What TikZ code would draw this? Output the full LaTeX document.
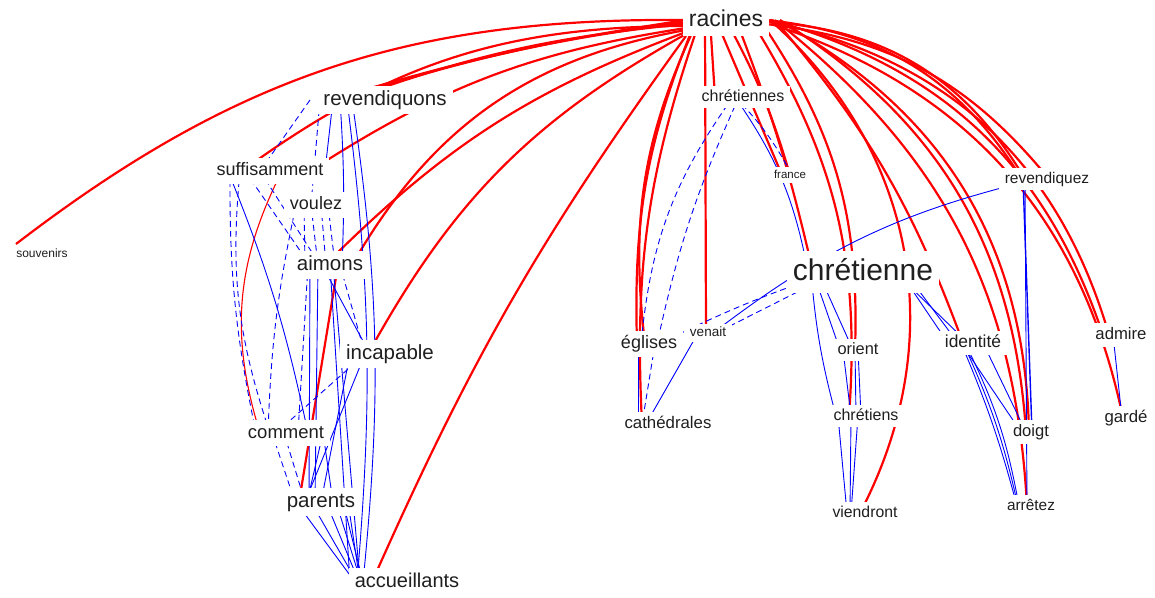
\documentclass[tikz,border=0pt]{standalone}
\usepackage{fontspec}
\setmainfont{Liberation Sans}
\usetikzlibrary{calc}
\pgfdeclarelayer{bg}\pgfdeclarelayer{edges}
\pgfsetlayers{bg,edges,main}
\newcommand\fsz[1]{\fontsize{#1}{#1}\selectfont}
\tikzset{
 lbl/.style={fill=white, text=black!88, inner xsep=6pt, inner ysep={#1*0.25pt},
   text height={#1*0.72pt}, text depth={#1*0.18pt}, font=\fsz{#1}},
 R/.style={draw=red, line width=2.2pt},
 Rt/.style={draw=red, line width=1.1pt},
 B/.style={draw=blue, line width=0.9pt},
 Bd/.style={draw=blue, line width=0.9pt, dash pattern=on 6pt off 4pt},
}
\begin{document}
\begin{tikzpicture}[x=1pt,y=-1pt]
\begin{pgfonlayer}{bg}
\fill[white] (0,0) rectangle (1155,597);
\end{pgfonlayer}
\useasboundingbox (0,0) rectangle (1155,597);
% nodes
\node[lbl=23] (racines) at (726,20) {racines};
\node[lbl=20.5] (revendiquons) at (385,100) {revendiquons};
\node[lbl=18] (suffisamment) at (270,171) {suffisamment};
\node[lbl=18] (voulez) at (316,205) {voulez};
\node[lbl=12] (souvenirs) at (42,254) {souvenirs};
\node[lbl=20.5] (aimons) at (330,265) {aimons};
\node[lbl=20.5] (incapable) at (390,354) {incapable};
\node[lbl=18.5] (comment) at (286,433) {comment};
\node[lbl=20.5] (parents) at (321,502) {parents};
\node[lbl=20] (accueillants) at (407,582) {accueillants};
\node[lbl=16] (chretiennes) at (743,97) {chrétiennes};
\node[lbl=11.5] (france) at (790,175) {france};
\node[lbl=15.5] (revendiquez) at (1047,179) {revendiquez};
\node[lbl=30] (chretienne) at (863,272) {chrétienne};
\node[lbl=18] (eglises) at (649,344) {églises};
\node[lbl=13.5] (venait) at (708,333) {venait};
\node[lbl=16.8] (cathedrales) at (668,424) {cathédrales};
\node[lbl=16.4] (orient) at (858,350) {orient};
\node[lbl=17.4] (identite) at (973,343) {identité};
\node[lbl=16.7] (admire) at (1121,335) {admire};
\node[lbl=16] (chretiens) at (866,416) {chrétiens};
\node[lbl=16.6] (doigt) at (1031,432) {doigt};
\node[lbl=16.8] (garde) at (1126,418) {gardé};
\node[lbl=15.8] (viendront) at (865,513) {viendront};
\node[lbl=15.4] (arretez) at (1031,506) {arrêtez};

\begin{pgfonlayer}{edges}
% ---- red edges from racines, left side
\draw[R] ($(racines)+(-40,0)$) to[bend right=19] ($(souvenirs)+(-26,-10)$);
\draw[R] ($(racines)+(-40,0)$) to[bend right=4] ($(revendiquons)+(-55,0)$);
\draw[R] ($(racines)+(-40,2)$) to[bend right=5] ($(revendiquons)+(-47,0)$);
\draw[R] ($(racines)+(-40,4)$) to[bend right=7] ($(revendiquons)+(-38,0)$);
\draw[Rt] ($(racines)+(-40,3)$) to[bend right=6] ($(revendiquons)+(-42,0)$);
\draw[R] ($(racines)+(-40,6)$) to[bend right=18] ($(suffisamment)+(-28,0)$);
\draw[R] ($(racines)+(-40,8)$) to[bend right=12] ($(suffisamment)+(40,0)$);
\draw[R] ($(racines)+(-40,10)$) to[bend right=25] ($(aimons)+(22,0)$);
\draw[R] ($(racines)+(-40,12)$) to[bend right=12] ($(aimons)+(0,-5)$);
\draw[R] ($(racines)+(-40,14)$) to[bend right=16] ($(incapable)+(-22,0)$);
\draw[R] ($(racines)+(-40,16)$) to[bend right=6] ($(accueillants)+(-35,0)$);
\draw[R] ($(aimons)+(8,0)$) -- ($(parents)+(-22,0)$);
\draw[Rt] ($(suffisamment)+(12,0)$) to[bend right=22] ($(comment)+(-26,0)$);
% ---- red edges from racines, right side
\draw[R] ($(racines)+(-30,0)$) to[bend right=12] ($(eglises)+(-12,0)$);
\draw[R] ($(racines)+(-28,0)$) to[bend right=16] ($(eglises)+(-4,0)$);
\draw[R] ($(racines)+(-26,0)$) to[bend right=11] ($(cathedrales)+(-26,0)$);
\draw[R] ($(racines)+(-21,0)$) -- ($(venait)+(-2,0)$);
\draw[R] ($(racines)+(-16,0)$) -- ($(chretiennes)+(-28,0)$);
\draw[R] ($(racines)+(-10,0)$) -- ($(france)+(-8,0)$);
\draw[R] ($(racines)+(0,0)$) to[bend left=6] ($(france)+(0,0)$);
\draw[R] ($(racines)+(10,0)$) to[bend left=4] ($(chretienne)+(-50,0)$);
\draw[R] ($(racines)+(25,0)$) to[bend left=18] ($(chretiens)+(-17,0)$);
\draw[R] ($(racines)+(34,0)$) to[bend left=18] ($(orient)+(-3,0)$);
\draw[R] ($(racines)+(44,0)$) to[bend left=38] ($(viendront)+(-5,0)$);
\draw[R] ($(racines)+(49,0)$) to[bend left=10] ($(identite)+(-10,0)$);
\draw[R] ($(racines)+(54,0)$) to[bend left=27] ($(doigt)+(-5,0)$);
\draw[R] ($(racines)+(54,2)$) to[bend left=30] ($(doigt)+(-2,0)$);
\draw[R] ($(racines)+(54,4)$) to[bend left=24] ($(arretez)+(-4,0)$);
\draw[R] ($(racines)+(40,0)$) to[bend left=26] ($(revendiquez)+(-25,0)$);
\draw[R] ($(racines)+(40,2)$) to[bend left=28] ($(revendiquez)+(-22,0)$);
\draw[R] ($(racines)+(40,4)$) to[bend left=22] ($(revendiquez)+(2,0)$);
\draw[R] ($(racines)+(45,0)$) to[bend left=28] ($(admire)+(-18,0)$);
\draw[R] ($(racines)+(45,2)$) to[bend left=31] ($(admire)+(-12,0)$);
\draw[R] ($(racines)+(45,4)$) to[bend left=30] ($(garde)+(-3,0)$);
% ---- blue edges, right part
\draw[B] ($(revendiquez)+(-10,0)$) to[bend right=12] ($(venait)+(5,0)$);
\draw[Bd] ($(chretienne)+(-30,0)$) to[bend right=4] ($(eglises)+(10,0)$);
\draw[Bd] ($(chretienne)+(-30,2)$) -- ($(venait)+(8,0)$);
\draw[Bd] ($(chretiennes)+(-10,0)$) to[bend right=15] ($(eglises)+(-8,0)$);
\draw[Bd] ($(chretiennes)+(-4,0)$) to[bend right=6] ($(eglises)+(8,0)$);
\draw[B] ($(venait)+(-10,0)$) -- ($(cathedrales)+(-22,0)$);
\draw[B] ($(eglises)+(-11,0)$) -- ($(cathedrales)+(-30,0)$);
\draw[Bd] ($(eglises)+(6,0)$) -- ($(cathedrales)+(-26,0)$);
\draw[Bd] ($(chretiennes)+(-8,0)$) to[bend left=8] ($(france)+(2,0)$);
\draw[B] ($(chretiennes)+(-8,0)$) to[bend left=12] ($(chretienne)+(-55,0)$);
\draw[B] ($(chretienne)+(-50,0)$) -- ($(orient)+(-18,0)$);
\draw[B] ($(chretienne)+(-45,0)$) -- ($(orient)+(-5,0)$);
\draw[B] ($(chretienne)+(-52,0)$) to[bend right=5] ($(chretiens)+(-30,0)$);
\draw[B] ($(orient)+(-15,0)$) -- ($(chretiens)+(-15,0)$);
\draw[B] ($(orient)+(-3,0)$) -- ($(chretiens)+(-10,0)$);
\draw[B] ($(orient)+(0,0)$) -- ($(chretiens)+(-5,0)$);
\draw[B] ($(chretiens)+(-28,0)$) -- ($(viendront)+(-18,0)$);
\draw[B] ($(chretiens)+(-8,0)$) -- ($(viendront)+(-14,0)$);
\draw[B] ($(chretiens)+(-15,0)$) -- ($(viendront)+(-15,0)$);
\draw[B] ($(chretienne)+(37,0)$) -- ($(identite)+(-25,0)$);
\draw[B] ($(chretienne)+(42,0)$) -- ($(identite)+(-15,0)$);
\draw[B] ($(chretienne)+(37,5)$) -- ($(identite)+(-5,0)$);
\draw[B] ($(identite)+(-12,0)$) -- ($(doigt)+(-10,0)$);
\draw[B] ($(identite)+(10,0)$) -- ($(doigt)+(-5,0)$);
\draw[B] ($(identite)+(-12,0)$) to[bend left=4] ($(arretez)+(-14,0)$);
\draw[B] ($(identite)+(-10,0)$) to[bend left=6] ($(arretez)+(-13,0)$);
\draw[B] ($(identite)+(-8,0)$) to[bend left=8] ($(arretez)+(-12,0)$);
\draw[B, line width=1.4pt] ($(revendiquez)+(-24,0)$) -- ($(doigt)+(1,0)$);
\draw[B] ($(revendiquez)+(-22,0)$) -- ($(arretez)+(-4,0)$);
\draw[B] ($(admire)+(-8,0)$) -- ($(garde)+(-4,0)$);
% ---- blue edges, left part
\draw[B] ($(revendiquons)+(-52,0)$) -- ($(suffisamment)+(55,0)$);
\draw[Bd] ($(revendiquons)+(-75,0)$) -- ($(suffisamment)+(-10,0)$);
\draw[Bd] ($(revendiquons)+(-65,0)$) -- ($(voulez)+(-5,0)$);
\draw[B] ($(revendiquons)+(-45,0)$) to[bend left=3] ($(aimons)+(12,0)$);
\draw[B] ($(revendiquons)+(-38,0)$) to[bend left=6] ($(accueillants)+(-50,0)$);
\draw[B] ($(revendiquons)+(-33,0)$) to[bend left=7] ($(accueillants)+(-44,0)$);
\draw[Bd] ($(suffisamment)+(-30,0)$) to[bend right=12] ($(comment)+(-16,0)$);
\draw[Bd] ($(suffisamment)+(-40,0)$) to[bend right=6] ($(comment)+(-30,0)$);
\draw[B] ($(suffisamment)+(-42,0)$) to[bend left=5] ($(comment)+(22,0)$);
\draw[Bd] ($(suffisamment)+(-25,0)$) -- ($(aimons)+(-20,0)$);
\draw[Bd] ($(suffisamment)+(-10,0)$) -- ($(aimons)+(-10,0)$);
\draw[Bd] ($(voulez)+(-20,0)$) to[bend right=5] ($(comment)+(-18,0)$);
\draw[Bd] ($(voulez)+(-12,0)$) -- ($(aimons)+(-25,0)$);
\draw[Bd] ($(voulez)+(-5,0)$) -- ($(aimons)+(-12,0)$);
\draw[Bd] ($(voulez)+(5,0)$) -- ($(aimons)+(-4,0)$);
\draw[Bd] ($(voulez)+(12,0)$) -- ($(aimons)+(5,0)$);
\draw[Bd] ($(aimons)+(-22,0)$) -- ($(comment)+(12,0)$);
\draw[B] ($(aimons)+(-20,0)$) -- ($(parents)+(-12,0)$);
\draw[B] ($(aimons)+(-12,0)$) -- ($(parents)+(-6,0)$);
\draw[B] ($(aimons)+(-8,0)$) -- ($(incapable)+(-20,0)$);
\draw[Bd] ($(aimons)+(10,0)$) -- ($(incapable)+(-25,0)$);
\draw[B] ($(aimons)+(0,0)$) -- ($(accueillants)+(-57,0)$);
\draw[B] ($(aimons)+(3,0)$) -- ($(accueillants)+(-47,0)$);
\draw[Bd] ($(comment)+(-10,0)$) -- ($(incapable)+(-25,0)$);
\draw[B] ($(parents)+(-16,0)$) -- ($(incapable)+(-25,0)$);
\draw[B] ($(comment)+(37,0)$) -- ($(parents)+(-14,0)$);
\draw[B] ($(comment)+(37,0)$) -- ($(parents)+(12,0)$);
\draw[B] ($(incapable)+(-40,0)$) -- ($(parents)+(0,0)$);
\draw[Bd] ($(comment)+(-14,0)$) -- ($(parents)+(-26,0)$);
\draw[Bd] ($(comment)+(-2,0)$) -- ($(parents)+(-16,0)$);
\draw[B] ($(parents)+(-25,0)$) -- ($(accueillants)+(-52,0)$);
\draw[B] ($(parents)+(-10,0)$) -- ($(accueillants)+(-50,0)$);
\draw[B] ($(parents)+(5,0)$) -- ($(accueillants)+(-48,0)$);
\draw[B] ($(parents)+(15,0)$) -- ($(accueillants)+(-46,0)$);
\draw[B] ($(parents)+(22,0)$) -- ($(accueillants)+(-44,0)$);
\draw[B] ($(parents)+(27,0)$) -- ($(accueillants)+(-47,0)$);
\end{pgfonlayer}
\end{tikzpicture}
\end{document}
